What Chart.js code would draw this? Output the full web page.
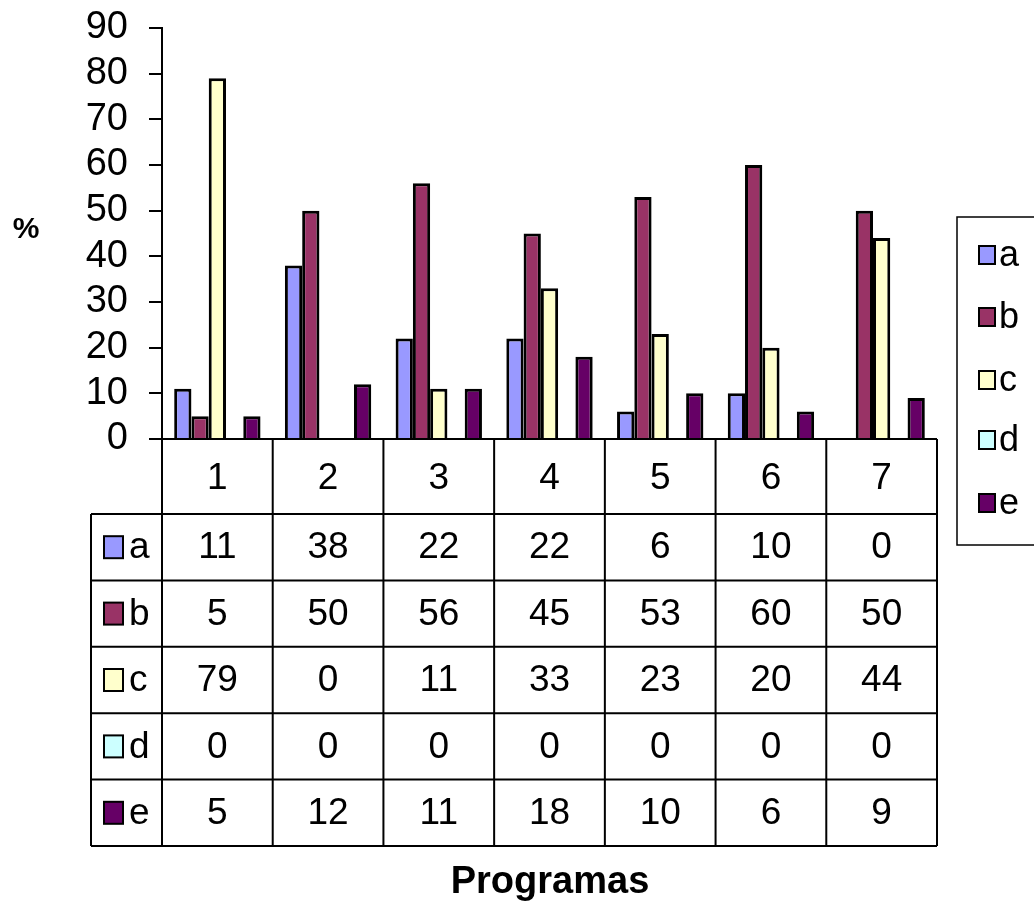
<!DOCTYPE html>
<html>
<head>
<meta charset="utf-8">
<script src="https://cdn.jsdelivr.net/npm/chart.js@4/dist/chart.umd.min.js"></script>
<style>
  html, body { margin: 0; padding: 0; background: #ffffff; }
  #wrap { width: 1034px; height: 905px; position: relative; }
</style>
</head>
<body>
<div id="wrap"><canvas id="c" width="1034" height="905"></canvas></div>
<script>
const categories = ['1', '2', '3', '4', '5', '6', '7'];
const seriesNames = ['a', 'b', 'c', 'd', 'e'];
const valuesA = [11, 38, 22, 22, 6, 10, 0];
const valuesB = [5, 50, 56, 45, 53, 60, 50];
const valuesC = [79, 0, 11, 33, 23, 20, 44];
const valuesD = [0, 0, 0, 0, 0, 0, 0];
const valuesE = [5, 12, 11, 18, 10, 6, 9];
const yTicks = [0, 10, 20, 30, 40, 50, 60, 70, 80, 90];
const yLabel = '%';
const xTitle = 'Programas';

const seriesValues = [valuesA, valuesB, valuesC, valuesD, valuesE];
const seriesColors = ['#9999FF', '#993366', '#FFFFCC', '#CCFFFF', '#660066'];

const FONT = '"Liberation Sans", Arial, sans-serif';

const tablePlugin = {
  id: 'dataTable',
  afterDraw(chart) {
    const ctx = chart.ctx;
    const xs = chart.scales.x;
    const area = chart.chartArea;
    const n = categories.length;
    const cw = (area.right - area.left) / n;
    const top = area.bottom;
    const headBottom = 514;
    const rowH = 66.4;
    const tableLeft = 91;
    const tableBottom = headBottom + rowH * seriesNames.length;
    ctx.save();
    ctx.strokeStyle = '#000';
    ctx.lineWidth = 2;
    ctx.beginPath();
    ctx.moveTo(area.left, top); ctx.lineTo(area.right, top);
    for (let i = 0; i <= n; i++) {
      const x = area.left + cw * i;
      ctx.moveTo(x, top); ctx.lineTo(x, tableBottom);
    }
    ctx.moveTo(tableLeft, headBottom); ctx.lineTo(area.right, headBottom);
    for (let r = 1; r <= seriesNames.length; r++) {
      const y = headBottom + rowH * r;
      ctx.moveTo(tableLeft, y); ctx.lineTo(area.right, y);
    }
    ctx.moveTo(tableLeft, headBottom); ctx.lineTo(tableLeft, tableBottom);
    ctx.stroke();

    ctx.fillStyle = '#000';
    ctx.textAlign = 'center';
    ctx.textBaseline = 'middle';
    ctx.font = '37px ' + FONT;
    categories.forEach((c, i) => {
      ctx.fillText(c, xs.getPixelForValue(i), (top + headBottom) / 2 + 2);
    });
    seriesNames.forEach((s, r) => {
      const yc = headBottom + rowH * r + rowH / 2;
      ctx.fillStyle = seriesColors[r];
      ctx.fillRect(104, yc - 11, 19, 22);
      ctx.strokeRect(104, yc - 11, 19, 22);
      ctx.fillStyle = '#000';
      ctx.textAlign = 'left';
      ctx.fillText(s, 129, yc + 1);
      ctx.textAlign = 'center';
      seriesValues[r].forEach((v, i) => {
        ctx.fillText(String(v), xs.getPixelForValue(i), yc + 1);
      });
    });

    ctx.font = 'bold 30px ' + FONT;
    ctx.fillText(yLabel, 26, 230);
    ctx.font = 'bold 38px ' + FONT;
    ctx.fillText(xTitle, 550, 883);

    ctx.lineWidth = 1.5;
    ctx.strokeStyle = '#000';
    ctx.fillStyle = '#fff';
    ctx.fillRect(957, 217, 90, 328);
    ctx.strokeRect(957, 217, 90, 328);
    const legY = [255, 317, 380, 440, 503];
    ctx.font = '36px ' + FONT;
    ctx.textAlign = 'left';
    seriesNames.forEach((s, r) => {
      ctx.fillStyle = seriesColors[r];
      ctx.lineWidth = 2;
      ctx.fillRect(979, legY[r] - 9, 16, 18);
      ctx.strokeRect(979, legY[r] - 9, 16, 18);
      ctx.fillStyle = '#000';
      ctx.fillText(s, 999, legY[r] + 1);
    });
    ctx.restore();
  }
};

new Chart(document.getElementById('c'), {
  type: 'bar',
  data: {
    labels: categories,
    datasets: seriesNames.map((s, i) => ({
      label: s,
      data: seriesValues[i],
      backgroundColor: seriesColors[i],
      borderColor: '#000',
      borderWidth: 3,
      borderSkipped: 'start',
      barPercentage: 1,
      categoryPercentage: 0.78
    }))
  },
  options: {
    responsive: false,
    animation: false,
    layout: { padding: { left: 0, top: 28, right: 97, bottom: 466 } },
    plugins: { legend: { display: false }, tooltip: { enabled: false } },
    scales: {
      x: { display: false },
      y: {
        min: 0,
        max: 90,
        afterFit(scale) {
          scale.width = 162;
          scale.paddingTop = 0;
          scale.paddingBottom = 0;
        },
        afterBuildTicks(scale) { scale.ticks = yTicks.map(v => ({ value: v })); },
        border: { display: true, color: '#000', width: 2 },
        grid: { drawOnChartArea: false, drawTicks: true, tickLength: 13, color: '#000', lineWidth: 2 },
        ticks: { color: '#000', padding: 21, autoSkip: false, font: { family: FONT, size: 38, lineHeight: 1 } }
      }
    }
  },
  plugins: [tablePlugin]
});
</script>
</body>
</html>
